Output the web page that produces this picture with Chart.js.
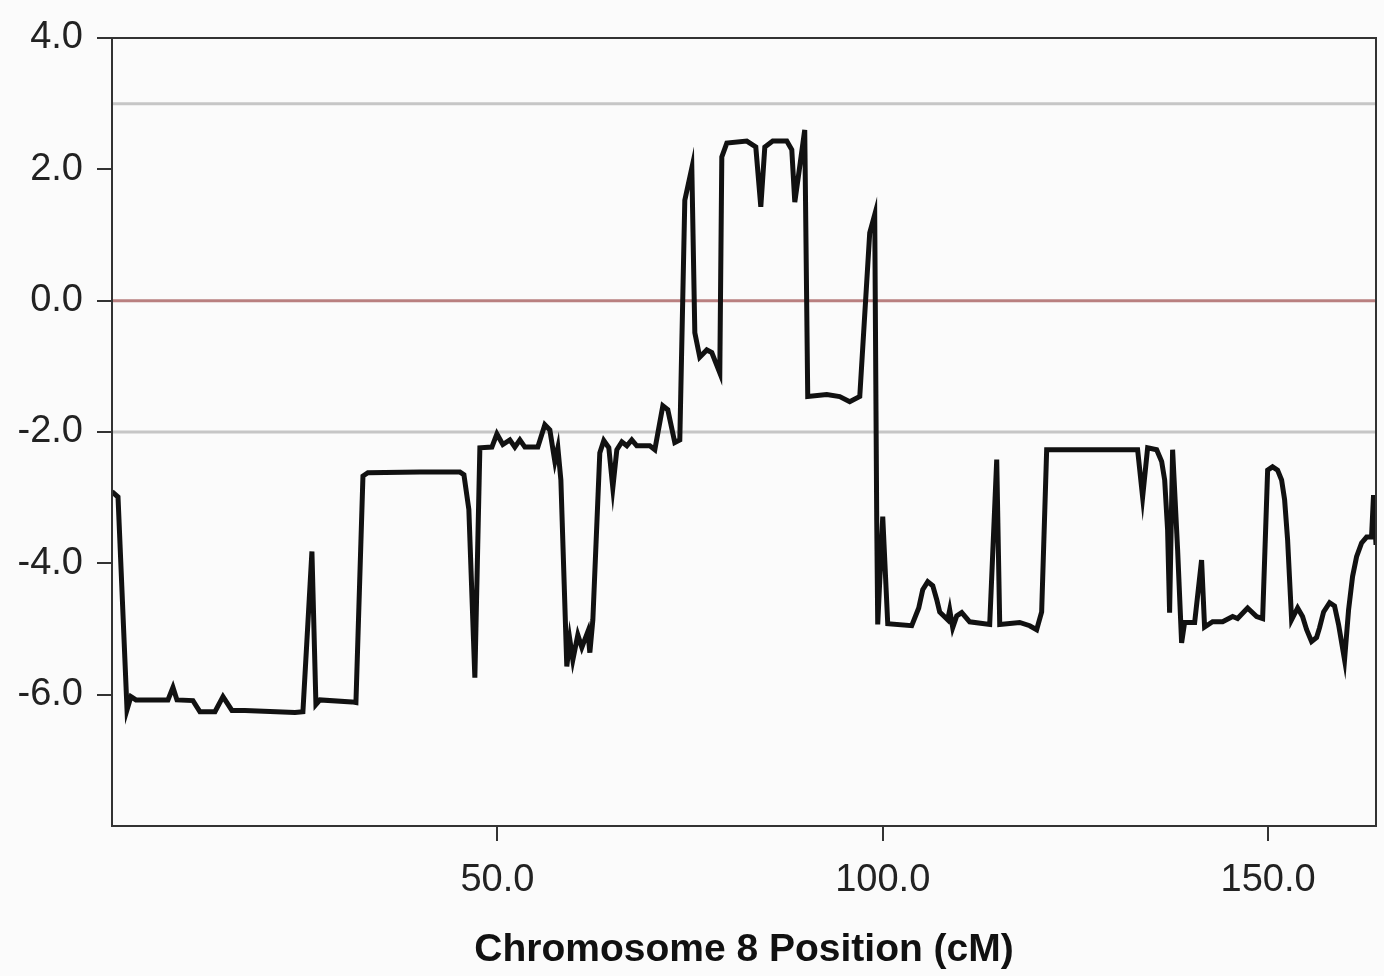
<!DOCTYPE html>
<html>
<head>
<meta charset="utf-8">
<script src="https://cdn.jsdelivr.net/npm/chart.js@4.4.1/dist/chart.umd.min.js"></script>
<style>
  html, body { margin: 0; padding: 0; background: #fbfbfb; }
  #wrap { width: 1384px; height: 976px; }
</style>
</head>
<body>
<div id="wrap"><canvas id="lodChart" width="1384" height="976"></canvas></div>
<script>
// position along chromosome 8 (cM)
const positionCM = [
  0, 0.78, 1.95, 2.46, 3.11, 7.26, 7.91, 8.43, 10.5, 11.41, 13.36, 14.4, 15.56, 17.25,
  23.74, 24.77, 25.94, 26.46, 26.98, 31.13, 31.65, 32.56, 33.2, 39.95, 45.14, 45.66,
  46.3, 47.08, 47.73, 49.29, 49.94, 50.71, 51.62, 52.27, 52.92, 53.57, 55.25, 56.16,
  56.81, 57.46, 57.85, 58.24, 59.01, 59.4, 59.79, 60.44, 60.96, 61.74, 62.0, 62.39,
  63.29, 63.81, 64.46, 64.98, 65.5, 66.15, 66.8, 67.44, 68.09, 69.78, 70.43, 71.47,
  72.11, 73.02, 73.67, 74.32, 75.23, 75.62, 76.26, 77.17, 77.82, 78.86, 79.12, 79.77,
  82.36, 83.53, 84.18, 84.7, 85.73, 87.55, 88.2, 88.59, 89.23, 89.88, 90.27, 92.74,
  94.42, 95.72, 97.02, 98.31, 98.96, 99.22, 99.35, 100.0, 100.65, 103.76, 104.67,
  105.19, 105.84, 106.49, 107.0, 107.39, 108.43, 108.69, 109.08, 109.6, 110.25, 111.28,
  113.88, 114.79, 115.18, 117.77, 119.07, 119.97, 120.62, 121.27, 133.07, 133.72,
  134.37, 135.54, 136.19, 136.58, 136.96, 137.22, 137.61, 138.26, 138.78, 139.17,
  140.47, 141.37, 141.76, 142.8, 144.1, 145.4, 146.04, 147.34, 148.51, 149.29, 149.94,
  150.58, 151.23, 151.75, 152.14, 152.53, 153.05, 153.83, 154.47, 155.0, 155.64,
  156.29, 156.68, 157.2, 157.98, 158.62, 159.14, 159.92, 160.44, 160.96, 161.48,
  162.13, 162.78, 163.42, 163.68, 164.0
];
// LOD score
const lodScore = [
  -2.91, -2.99, -6.23, -6.03, -6.08, -6.08, -5.89, -6.08, -6.09, -6.26, -6.26, -6.03, -6.24, -6.24,
  -6.27, -6.26, -3.82, -6.15, -6.08, -6.11, -6.12, -2.67, -2.62, -2.61, -2.61, -2.65,
  -3.18, -5.74, -2.24, -2.23, -2.03, -2.19, -2.12, -2.23, -2.12, -2.23, -2.23, -1.89,
  -1.97, -2.45, -2.24, -2.73, -5.57, -5.16, -5.47, -5.09, -5.28, -5.04, -5.36, -4.86,
  -2.32, -2.13, -2.24, -2.85, -2.27, -2.15, -2.21, -2.12, -2.21, -2.21, -2.27, -1.6,
  -1.66, -2.16, -2.12, 1.53, 2.02, -0.49, -0.86, -0.75, -0.79, -1.1, 2.19, 2.4,
  2.43, 2.34, 1.43, 2.34, 2.43, 2.43, 2.3, 1.5, 2.04, 2.6, -1.46, -1.43,
  -1.46, -1.54, -1.46, 1.03, 1.31, -3.34, -4.93, -3.29, -4.92, -4.95, -4.68,
  -4.4, -4.28, -4.34, -4.55, -4.74, -4.86, -4.71, -4.98, -4.8, -4.75, -4.89,
  -4.93, -2.42, -4.93, -4.9, -4.95, -5.01, -4.74, -2.27, -2.27, -2.99,
  -2.24, -2.27, -2.45, -2.73, -3.49, -4.75, -2.27, -3.79, -5.21, -4.9,
  -4.9, -3.95, -4.97, -4.89, -4.89, -4.81, -4.84, -4.68, -4.81, -4.84, -2.58,
  -2.53, -2.58, -2.73, -3.03, -3.64, -4.86, -4.68, -4.81, -5.01, -5.19,
  -5.13, -4.98, -4.74, -4.6, -4.65, -4.93, -5.47, -4.71, -4.2, -3.9,
  -3.69, -3.6, -3.6, -2.96, -3.72
];

const xTicks = [50, 100, 150];
const yTicks = [4, 2, 0, -2, -4, -6];
const refLevels = [3, 0, -2];
const refColors = ['#c6c6c6', 'rgb(185,128,128)', '#c6c6c6'];

const xMin = 0, xMax = 164;
const fontFamily = "'Liberation Sans', Arial, sans-serif";

const curve = positionCM.map((p, i) => ({ x: p, y: lodScore[i] }));

const datasets = [{
  data: curve,
  borderColor: '#111',
  borderWidth: 5,
  pointRadius: 0,
  tension: 0,
  borderJoinStyle: 'miter'
}];
refLevels.forEach((lvl, i) => {
  datasets.push({
    data: [{ x: xMin, y: lvl }, { x: xMax, y: lvl }],
    borderColor: refColors[i],
    borderWidth: 3,
    pointRadius: 0
  });
});

// frame around plot area
const framePlugin = {
  id: 'frame',
  beforeDraw(chart) {
    const c = chart.ctx;
    c.save();
    c.fillStyle = '#fbfbfb';
    c.fillRect(0, 0, chart.width, chart.height);
    c.restore();
  },
  afterDraw(chart) {
    const a = chart.chartArea;
    const c = chart.ctx;
    c.save();
    c.strokeStyle = '#333';
    c.lineWidth = 2;
    c.strokeRect(a.left, a.top, a.right - a.left, a.bottom - a.top);
    c.restore();
  }
};

new Chart(document.getElementById('lodChart'), {
  type: 'line',
  data: { datasets: datasets },
  plugins: [framePlugin],
  options: {
    responsive: false,
    animation: false,
    layout: { padding: { left: 0, right: 8, top: 38, bottom: 0 } },
    plugins: { legend: { display: false }, tooltip: { enabled: false } },
    scales: {
      x: {
        type: 'linear',
        min: xMin,
        max: xMax,
        afterBuildTicks: s => { s.ticks = xTicks.map(v => ({ value: v })); },
        afterFit: s => { s.height = 150; },
        border: { display: false },
        grid: { drawOnChartArea: false, drawTicks: true, tickLength: 15, color: '#333', lineWidth: 2 },
        ticks: {
          padding: 17,
          color: '#222',
          maxRotation: 0,
          font: { family: fontFamily, size: 38 },
          callback: v => v.toFixed(1)
        },
        title: {
          display: true,
          text: 'Chromosome 8 Position (cM)',
          color: '#111',
          font: { family: fontFamily, size: 39, weight: 'bold' },
          padding: { top: 0, bottom: 2 }
        }
      },
      y: {
        min: -8,
        max: 4,
        afterBuildTicks: s => { s.ticks = yTicks.map(v => ({ value: v })); },
        afterFit: s => { s.width = 112; },
        border: { display: false },
        grid: { drawOnChartArea: false, drawTicks: true, tickLength: 15, color: '#333', lineWidth: 2 },
        ticks: {
          padding: 14,
          color: '#222',
          font: { family: fontFamily, size: 38 },
          callback: v => v.toFixed(1)
        }
      }
    }
  }
});
</script>
</body>
</html>
